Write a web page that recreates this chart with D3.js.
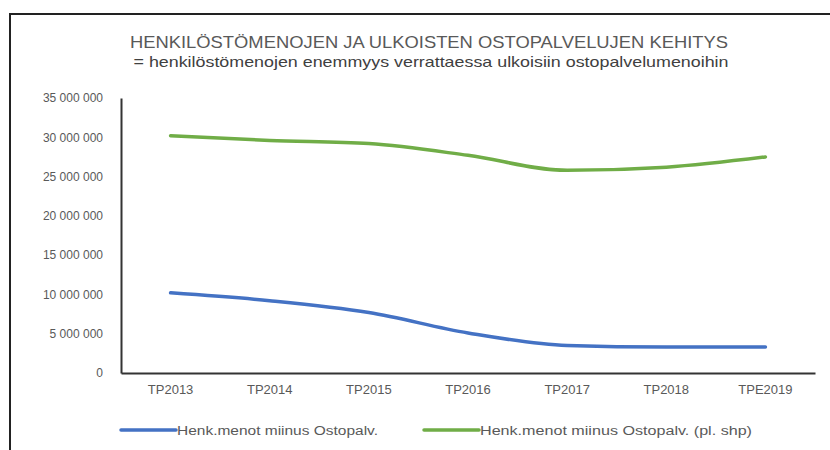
<!DOCTYPE html>
<html>
<head>
<meta charset="utf-8">
<script src="https://cdn.jsdelivr.net/npm/d3@7"></script>
<style>
  body { margin: 0; background: #fff; }
  svg { font-family: "Liberation Sans", Arial, sans-serif; }
</style>
</head>
<body>
<svg id="svg1" width="830" height="450"></svg>
<script>
// data
var categories = ['TP2013', 'TP2014', 'TP2015', 'TP2016', 'TP2017', 'TP2018', 'TPE2019'];
var seriesNames = ['Henk.menot miinus Ostopalv.', 'Henk.menot miinus Ostopalv. (pl. shp)'];
var blueValues = [10200000, 9200000, 7700000, 5100000, 3500000, 3300000, 3300000];
var greenValues = [30200000, 29600000, 29200000, 27700000, 25800000, 26200000, 27500000];
var yTicks = [0, 5000000, 10000000, 15000000, 20000000, 25000000, 30000000, 35000000];

var colors = ['#4472C4', '#70AD47'];
var series = [blueValues, greenValues];

var svg = d3.select('#svg1');

var marginLeft = 121;
var marginRight = 815;
var marginTop = 98;
var marginBottom = 373;

// frame around the chart (top and left edges show)
svg.append('path')
    .attr('d', 'M10,450 L10,14 L830,14')
    .attr('fill', 'none')
    .attr('stroke', '#222')
    .attr('stroke-width', 2);

svg.append('text')
    .attr('x', 429).attr('y', 48)
    .attr('text-anchor', 'middle')
    .attr('font-size', 17)
    .attr('fill', '#595959')
    .attr('textLength', 598)
    .attr('lengthAdjust', 'spacingAndGlyphs')
    .text('HENKILÖSTÖMENOJEN JA ULKOISTEN OSTOPALVELUJEN KEHITYS');

svg.append('text')
    .attr('x', 431).attr('y', 67)
    .attr('text-anchor', 'middle')
    .attr('font-size', 15)
    .attr('fill', '#404040')
    .attr('textLength', 595)
    .attr('lengthAdjust', 'spacingAndGlyphs')
    .text('= henkilöstömenojen enemmyys verrattaessa ulkoisiin ostopalvelumenoihin');

var scaleX = d3.scaleBand().domain(categories).range([marginLeft, marginRight]);
var scaleY = d3.scaleLinear().domain([0, 35000000]).range([marginBottom, marginTop]);

var fmt = function(d) { return d3.format(',')(d).replace(/,/g, ' '); };

var yAxis = svg.append('g')
    .attr('transform', 'translate(' + marginLeft + ',0)')
    .call(d3.axisLeft(scaleY).tickValues(yTicks).tickFormat(fmt).tickSize(0).tickPadding(18));
yAxis.select('.domain').attr('stroke', '#333').attr('stroke-width', 2);
yAxis.selectAll('text').attr('font-size', 12).attr('fill', '#595959')
    .attr('font-family', '"Liberation Sans", Arial, sans-serif');

var xAxis = svg.append('g')
    .attr('transform', 'translate(0,' + marginBottom + ')')
    .call(d3.axisBottom(scaleX).tickSize(0).tickPadding(12));
xAxis.select('.domain').attr('stroke', '#333').attr('stroke-width', 2);
xAxis.selectAll('text').attr('font-size', 13).attr('fill', '#595959')
    .attr('font-family', '"Liberation Sans", Arial, sans-serif');

var line = d3.line()
    .x(function(d, i) { return scaleX(categories[i]) + scaleX.bandwidth() / 2; })
    .y(function(d) { return scaleY(d); })
    .curve(d3.curveMonotoneX);

series.forEach(function(values, k) {
  svg.append('path')
      .datum(values)
      .attr('fill', 'none')
      .attr('stroke', colors[k])
      .attr('stroke-width', 3.5)
      .attr('stroke-linecap', 'round')
      .attr('d', line);
});

// legend
var legendX = [121, 424];
var legendW = [201, 272];
var legend = svg.selectAll('.legend')
    .data(seriesNames)
    .enter()
    .append('g')
    .attr('class', 'legend')
    .attr('transform', function(d, i) { return 'translate(' + legendX[i] + ',430)'; });

legend.append('line')
    .attr('x1', 0).attr('x2', 55)
    .attr('y1', 0).attr('y2', 0)
    .attr('stroke', function(d, i) { return colors[i]; })
    .attr('stroke-width', 3.5)
    .attr('stroke-linecap', 'round');

legend.append('text')
    .attr('x', 56).attr('y', 4.5)
    .attr('font-size', 12.5)
    .attr('fill', '#595959')
    .attr('textLength', function(d, i) { return legendW[i]; })
    .attr('lengthAdjust', 'spacingAndGlyphs')
    .text(function(d) { return d; });
</script>
</body>
</html>
